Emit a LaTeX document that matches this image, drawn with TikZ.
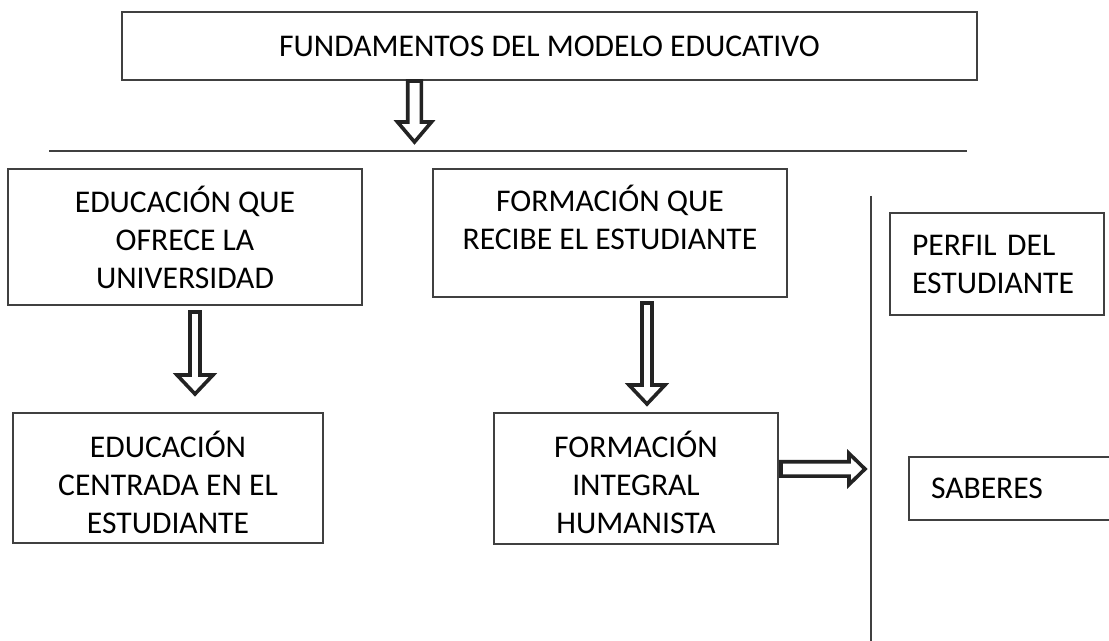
\documentclass[tikz,border=0pt]{standalone}
\usepackage{fontspec}
\setmainfont{Carlito}
\usetikzlibrary{calc, positioning}
\definecolor{lineColor}{RGB}{64,64,64}
\definecolor{arrowColor}{RGB}{35,35,35}
\tikzstyle{caja} = [rectangle, draw=lineColor, line width=1pt, align=center, inner sep=0pt, font=\fontsize{15.8}{19}\selectfont]
\tikzstyle{linea} = [draw=lineColor, line width=1pt]
% hollow block arrow: shaft half width / head half width / head length
\tikzset{flecha/.style n args={3}{draw=arrowColor, fill=white, line width=1.8pt, line join=miter,
    to path={($(\tikztostart)!#1!90:(\tikztotarget)$)
      -- ($(\tikztotarget)!#3!(\tikztostart)!#1!-90:(\tikztostart)$)
      -- ($(\tikztotarget)!#3!(\tikztostart)!#2!-90:(\tikztostart)$)
      -- (\tikztotarget)
      -- ($(\tikztotarget)!#3!(\tikztostart)!#2!90:(\tikztostart)$)
      -- ($(\tikztotarget)!#3!(\tikztostart)!#1!90:(\tikztostart)$)
      -- ($(\tikztostart)!#1!-90:(\tikztotarget)$) -- cycle}}}

\begin{document}
\begin{tikzpicture}[x=0.5pt, y=-0.5pt]
			\useasboundingbox (0,0) rectangle (1109,641);

			\node (fund) [caja, minimum width=427.5pt, minimum height=34pt] at (549.5,46) {FUNDAMENTOS DEL MODELO EDUCATIVO};
			\node (edu) [caja, minimum width=177pt, minimum height=68pt] at (185,237) {EDUCACIÓN QUE\\OFRECE LA\\UNIVERSIDAD};
			\node (form) [caja, minimum width=177pt, minimum height=64pt] at (610,233) {FORMACIÓN QUE\\RECIBE EL ESTUDIANTE\\[-9pt]\strut};
			\node (cen) [caja, minimum width=155pt, minimum height=65pt] at (168,478) {\rule{0pt}{18pt}EDUCACIÓN\\CENTRADA EN EL\\ESTUDIANTE};
			\node (integ) [caja, minimum width=142pt, minimum height=65.5pt] at (636,478.5) {\rule{0pt}{17pt}FORMACIÓN\\INTEGRAL\\HUMANISTA};
			\node (perfil) [caja, anchor=west, align=left, inner xsep=11pt, text width=85pt, minimum height=51pt] at (889,264) {PERFIL DEL\\ESTUDIANTE};
			\node (saberes) [caja, anchor=west, align=left, inner xsep=11pt, text width=93pt, minimum height=31.5pt] at (908,488.5) {SABERES};

			\coordinate (hl) at (49,151);
			\coordinate (hr) at (967,151);
			\coordinate (vt) at (871,196);
			\coordinate (vb) at (871,645);
			\draw[linea] (hl) -- (hr);
			\draw[linea] (vt) -- (vb);

			\coordinate (f0s) at (fund.south -| 414.5,0);
			\coordinate (f0e) at (414.5,142);
			\coordinate (f1s) at (195,312);
			\coordinate (f1e) at (195,394);
			\coordinate (f2s) at (647,303);
			\coordinate (f2e) at (647,404);
			\coordinate (f3s) at (781,469);
			\coordinate (f3e) at (865,469);

			\draw[flecha={3.4pt}{8.5pt}{10pt}] (f0s) to (f0e);
			\draw[flecha={2.5pt}{9pt}{9.5pt}] (f1s) to (f1e);
			\draw[flecha={2.5pt}{9pt}{9.5pt}] (f2s) to (f2e);
			\draw[flecha={3.6pt}{7.8pt}{8pt}] (f3s) to (f3e);
\end{tikzpicture}
\end{document}
